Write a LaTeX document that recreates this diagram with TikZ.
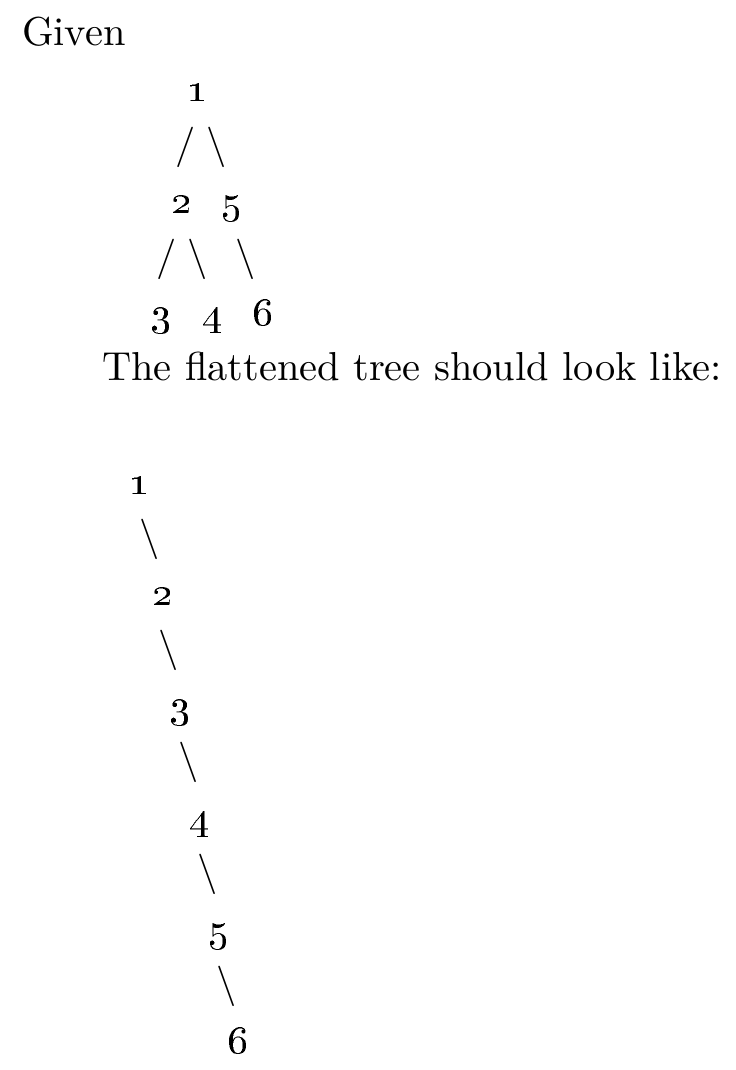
\documentclass[tikz,border=0pt]{standalone}
\usetikzlibrary{positioning}

\begin{document}
\begin{tikzpicture}[x=0.25pt,y=-0.25pt,
  txt/.style={inner sep=0pt,outer sep=0pt,font=\fontsize{10.1}{12}\selectfont},
  num/.style={txt,anchor=base},
  kante/.style={txt,anchor=center}]

% Bildgroesse wie Vorlage
\useasboundingbox (0,0) rectangle (736,1070);

% Abstand der Zeilen im zweiten Baum
\def\dy{111.8}

% ------------------- Gegebener Baum -------------------
\node[txt,anchor=base west] (given) at (22,46) {Given};

\node[num] (a1) at (197,102) {\oldstylenums{1}};
\node[kante] (a12) at (186,147) {/};
\node[kante] (a15) at (217,147) {\textbackslash};
\node[num] (a2) at (181,213) {\oldstylenums{2}};
\node[num] (a5) at (231,213) {\oldstylenums{5}};
\node[kante] (a23) at (167,259) {/};
\node[kante] (a24) at (198,259) {\textbackslash};
\node[kante] (a56) at (246,259) {\textbackslash};
\node[num] (a3) at (161,325) {\oldstylenums{3}};
\node[num] (a4) at (212,325) {\oldstylenums{4}};
\node[num] (a6) at (263,325) {\oldstylenums{6}};

\node[txt,anchor=base west] (satz) at (102,380) {The flattened tree should look like:};

% ------------------- Flacher Baum -------------------
\foreach \i/\x/\s in {1/139/150, 2/162/169, 3/180/189, 4/199/208, 5/218/227, 6/238/0} {
  \node[num] (b\i) at (\x,{494+(\i-1)*\dy}) {\oldstylenums{\i}};
  \ifnum\s>0
    \node[kante] (k\i) at (\s,{539+(\i-1)*\dy}) {\textbackslash};
  \fi
}

\end{tikzpicture}
\end{document}
